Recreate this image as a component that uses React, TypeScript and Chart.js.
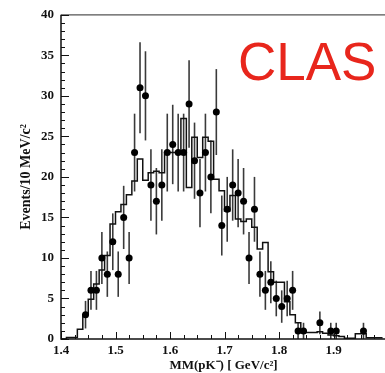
import React, { useEffect, useRef } from 'react';
import { Chart, registerables } from 'chart.js';

Chart.register(...registerables);

// Histogram (simulation), 10 MeV bins: lower edges and contents
const histEdges = [
  1.40, 1.41, 1.42, 1.43, 1.44, 1.45, 1.46, 1.47, 1.48, 1.49,
  1.50, 1.51, 1.52, 1.53, 1.54, 1.55, 1.56, 1.57, 1.58, 1.59,
  1.60, 1.61, 1.62, 1.63, 1.64, 1.65, 1.66, 1.67, 1.68, 1.69,
  1.70, 1.71, 1.72, 1.73, 1.74, 1.75, 1.76, 1.77, 1.78, 1.79,
  1.80, 1.81, 1.82, 1.83, 1.84, 1.85, 1.86, 1.87, 1.88, 1.89,
  1.90, 1.91, 1.92, 1.93, 1.94, 1.95, 1.96, 1.97, 1.98, 1.99,
];
const histCounts = [
  0, 0.2, 0.2, 1.2, 3.0, 4.9, 6.8, 8.5, 10.3, 14.2,
  15.7, 16.6, 17.8, 19.5, 22.2, 19.6, 20.5, 20.7, 20.5, 23.0,
  23.0, 23.0, 27.2, 18.7, 24.9, 22.4, 24.9, 24.4, 19.7, 18.3,
  15.8, 17.7, 14.8, 14.5, 14.8, 13.8, 11.1, 11.9, 8.3, 7.0,
  7.0, 4.6, 3.0, 2.0, 1.0, 0.8, 0.8, 0.9, 0.7, 0.5,
  0.4, 0.3, 0.1, 0.1, 0.65, 0.65, 0.15, 0.15, 0.15,
];

// Data points with error bars
const pointX = [
  1.445, 1.455, 1.465, 1.475, 1.485, 1.495, 1.505, 1.515, 1.525, 1.535,
  1.545, 1.555, 1.565, 1.575, 1.585, 1.595, 1.605, 1.615, 1.625, 1.635,
  1.645, 1.655, 1.665, 1.675, 1.685, 1.695, 1.705, 1.715, 1.725, 1.735,
  1.745, 1.755, 1.765, 1.775, 1.785, 1.795, 1.805, 1.815, 1.825, 1.835,
  1.845, 1.875, 1.895, 1.905, 1.955,
];
const pointY = [
  3, 6, 6, 10, 8, 12, 8, 15, 10, 23,
  31, 30, 19, 17, 19, 23, 24, 23, 23, 29,
  22, 18, 23, 20, 28, 14, 16, 19, 18, 17,
  10, 16, 8, 6, 7, 5, 4, 5, 6, 1,
  1, 2, 1, 1, 1,
];
const pointErr = [
  1.7, 2.4, 2.4, 3.2, 2.8, 3.5, 2.8, 3.9, 3.2, 4.8,
  5.6, 5.5, 4.4, 4.1, 4.4, 4.8, 4.9, 4.8, 4.8, 5.4,
  4.7, 4.2, 4.8, 4.5, 5.3, 3.7, 4.0, 4.4, 4.2, 4.1,
  3.2, 4.0, 2.8, 2.4, 2.6, 2.2, 2.0, 2.2, 2.4, 1.0,
  1.0, 1.4, 1.0, 1.0, 1.0,
];

const xTickValues = [1.4, 1.5, 1.6, 1.7, 1.8, 1.9];
const yTickValues = [0, 5, 10, 15, 20, 25, 30, 35, 40];
const xTitle = 'MM(pK⁻) [ GeV/c²]';
const yTitle = 'Events/10 MeV/c²';
const logoText = 'CLAS';

const W = 392;
const H = 373;

export default function App() {
  const ref = useRef<HTMLCanvasElement>(null);

  useEffect(() => {
    const canvas = ref.current;
    if (!canvas) return;
    const serif = "'Liberation Serif', 'Times New Roman', serif";

    const overlay = {
      id: 'overlay',
      beforeDatasetsDraw(chart: any) {
        const { ctx, scales } = chart;
        const x = scales.x;
        const y = scales.y;
        ctx.save();
        ctx.strokeStyle = '#3a3a3a';
        ctx.lineWidth = 1.6;
        pointX.forEach((px, i) => {
          const xp = x.getPixelForValue(px);
          const lo = Math.max(0, pointY[i] - pointErr[i]);
          ctx.beginPath();
          ctx.moveTo(xp, y.getPixelForValue(lo));
          ctx.lineTo(xp, y.getPixelForValue(pointY[i] + pointErr[i]));
          ctx.stroke();
        });
        ctx.restore();
      },
      afterDraw(chart: any) {
        const { ctx, chartArea: a, scales } = chart;
        const x = scales.x;
        const y = scales.y;
        ctx.save();
        // frame
        ctx.strokeStyle = '#111';
        ctx.lineWidth = 1.5;
        ctx.beginPath();
        ctx.moveTo(a.left, a.top);
        ctx.lineTo(a.left, a.bottom);
        ctx.lineTo(a.right, a.bottom);
        ctx.stroke();
        ctx.strokeStyle = '#555';
        ctx.lineWidth = 1.2;
        ctx.beginPath();
        ctx.moveTo(a.left, a.top);
        ctx.lineTo(a.right, a.top);
        ctx.stroke();
        // inward ticks
        ctx.strokeStyle = '#111';
        ctx.lineWidth = 1;
        for (let k = 0; k <= 24; k++) {
          const v = 1.4 + k * 0.025;
          const xp = Math.round(x.getPixelForValue(v)) + 0.5;
          const len = k % 4 === 0 ? 7 : 4;
          ctx.beginPath();
          ctx.moveTo(xp, a.bottom);
          ctx.lineTo(xp, a.bottom - len);
          ctx.stroke();
        }
        for (let v = 0; v <= 40; v++) {
          const yp = Math.round(y.getPixelForValue(v)) + 0.5;
          const len = v % 5 === 0 ? 8 : 4;
          ctx.beginPath();
          ctx.moveTo(a.left, yp);
          ctx.lineTo(a.left + len, yp);
          ctx.stroke();
        }
        // axis titles
        ctx.fillStyle = '#111';
        ctx.textAlign = 'center';
        ctx.textBaseline = 'middle';
        ctx.font = `bold 13px ${serif}`;
        ctx.fillText(xTitle, (a.left + a.right) / 2 - 1, 366);
        ctx.save();
        ctx.translate(26, (a.top + a.bottom) / 2);
        ctx.rotate(-Math.PI / 2);
        ctx.font = `bold 14px ${serif}`;
        ctx.fillText(yTitle, 0, 0);
        ctx.restore();
        // CLAS label
        ctx.fillStyle = '#e8261c';
        ctx.textAlign = 'left';
        ctx.textBaseline = 'alphabetic';
        ctx.font = "53px 'Liberation Sans', Arial, sans-serif";
        ctx.fillText(logoText, 238, 80);
        ctx.restore();
      },
    };

    const tickFont = { family: serif, weight: 'bold' as const, size: 13 };

    const chart = new Chart(canvas, {
      type: 'scatter',
      data: {
        datasets: [
          {
            type: 'scatter',
            label: 'data',
            data: pointX.map((px, i) => ({ x: px, y: pointY[i] })),
            pointRadius: 3.5,
            pointBackgroundColor: '#000',
            pointBorderWidth: 0,
            borderColor: '#000',
          },
          {
            type: 'line',
            label: 'MC',
            data: histEdges.map((e, i) => ({ x: e, y: histCounts[Math.min(i, histCounts.length - 1)] })),
            stepped: 'before',
            borderColor: '#111',
            borderWidth: 1.5,
            pointRadius: 0,
            fill: false,
          } as any,
        ],
      },
      options: {
        responsive: false,
        animation: false,
        devicePixelRatio: 1,
        events: [],
        layout: { padding: { left: 0, top: 12, right: W - 390, bottom: 0 } },
        plugins: { legend: { display: false }, tooltip: { enabled: false } },
        scales: {
          x: {
            type: 'linear',
            min: 1.4,
            max: 2.0,
            afterFit(s: any) { s.height = H - 339; },
            afterBuildTicks(s: any) { s.ticks = xTickValues.map((v) => ({ value: v })); },
            grid: { display: false, drawTicks: false },
            border: { display: false },
            ticks: {
              autoSkip: false,
              maxRotation: 0,
              padding: 4,
              color: '#111',
              font: tickFont,
              callback: (v: any) => Number(v).toFixed(1),
            },
          },
          y: {
            type: 'linear',
            min: 0,
            max: 40,
            afterFit(s: any) { s.width = 61; },
            afterBuildTicks(s: any) { s.ticks = yTickValues.map((v) => ({ value: v })); },
            grid: { display: false, drawTicks: false },
            border: { display: false },
            ticks: {
              autoSkip: false,
              padding: 7,
              color: '#111',
              font: tickFont,
              callback: (v: any) => String(v),
            },
          },
        },
      } as any,
      plugins: [overlay],
    });

    return () => chart.destroy();
  }, []);

  return (
    <div style={{ position: 'fixed', left: 0, top: 0, width: 385, height: 373, overflow: 'hidden', background: '#fff' }}>
      <canvas ref={ref} width={W} height={H} style={{ width: W, height: H, display: 'block' }} />
    </div>
  );
}
